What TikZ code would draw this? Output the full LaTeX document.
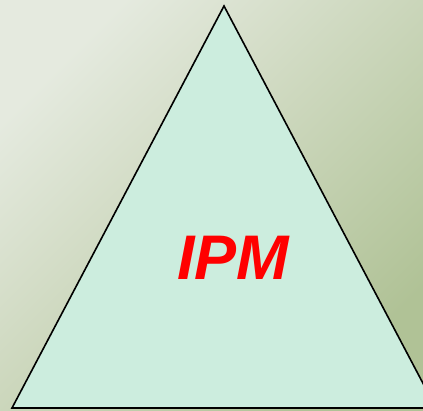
\documentclass[tikz,border=0pt]{standalone}
\usepackage{fontspec}
\setmainfont{Liberation Sans}
\definecolor{bgA}{RGB}{229,234,223}
\definecolor{bgB}{RGB}{176,194,150}
\definecolor{trifill}{RGB}{204,237,222}
\begin{document}
\begin{tikzpicture}[x=1pt,y=-1pt,
  tri/.style={draw=black, line width=1.6pt, fill=trifill, line join=miter},
  lbl/.style={text=red, font=\fontsize{63}{63}\selectfont\bfseries\itshape, inner sep=0pt}]
\useasboundingbox (0,0) rectangle (423,411);
\clip (0,0) rectangle (423,411);
\shade[left color=bgA, right color=bgB, shading angle=45] (0,0) rectangle (423,411);
\coordinate (apex) at (224,6);
\coordinate (bl) at (12,408);
\coordinate (br) at (436,408);
\draw[tri] (apex) -- (bl) -- (br) -- cycle;
\node[lbl] (ipm) at (233,258) {IPM};
\end{tikzpicture}
\end{document}
